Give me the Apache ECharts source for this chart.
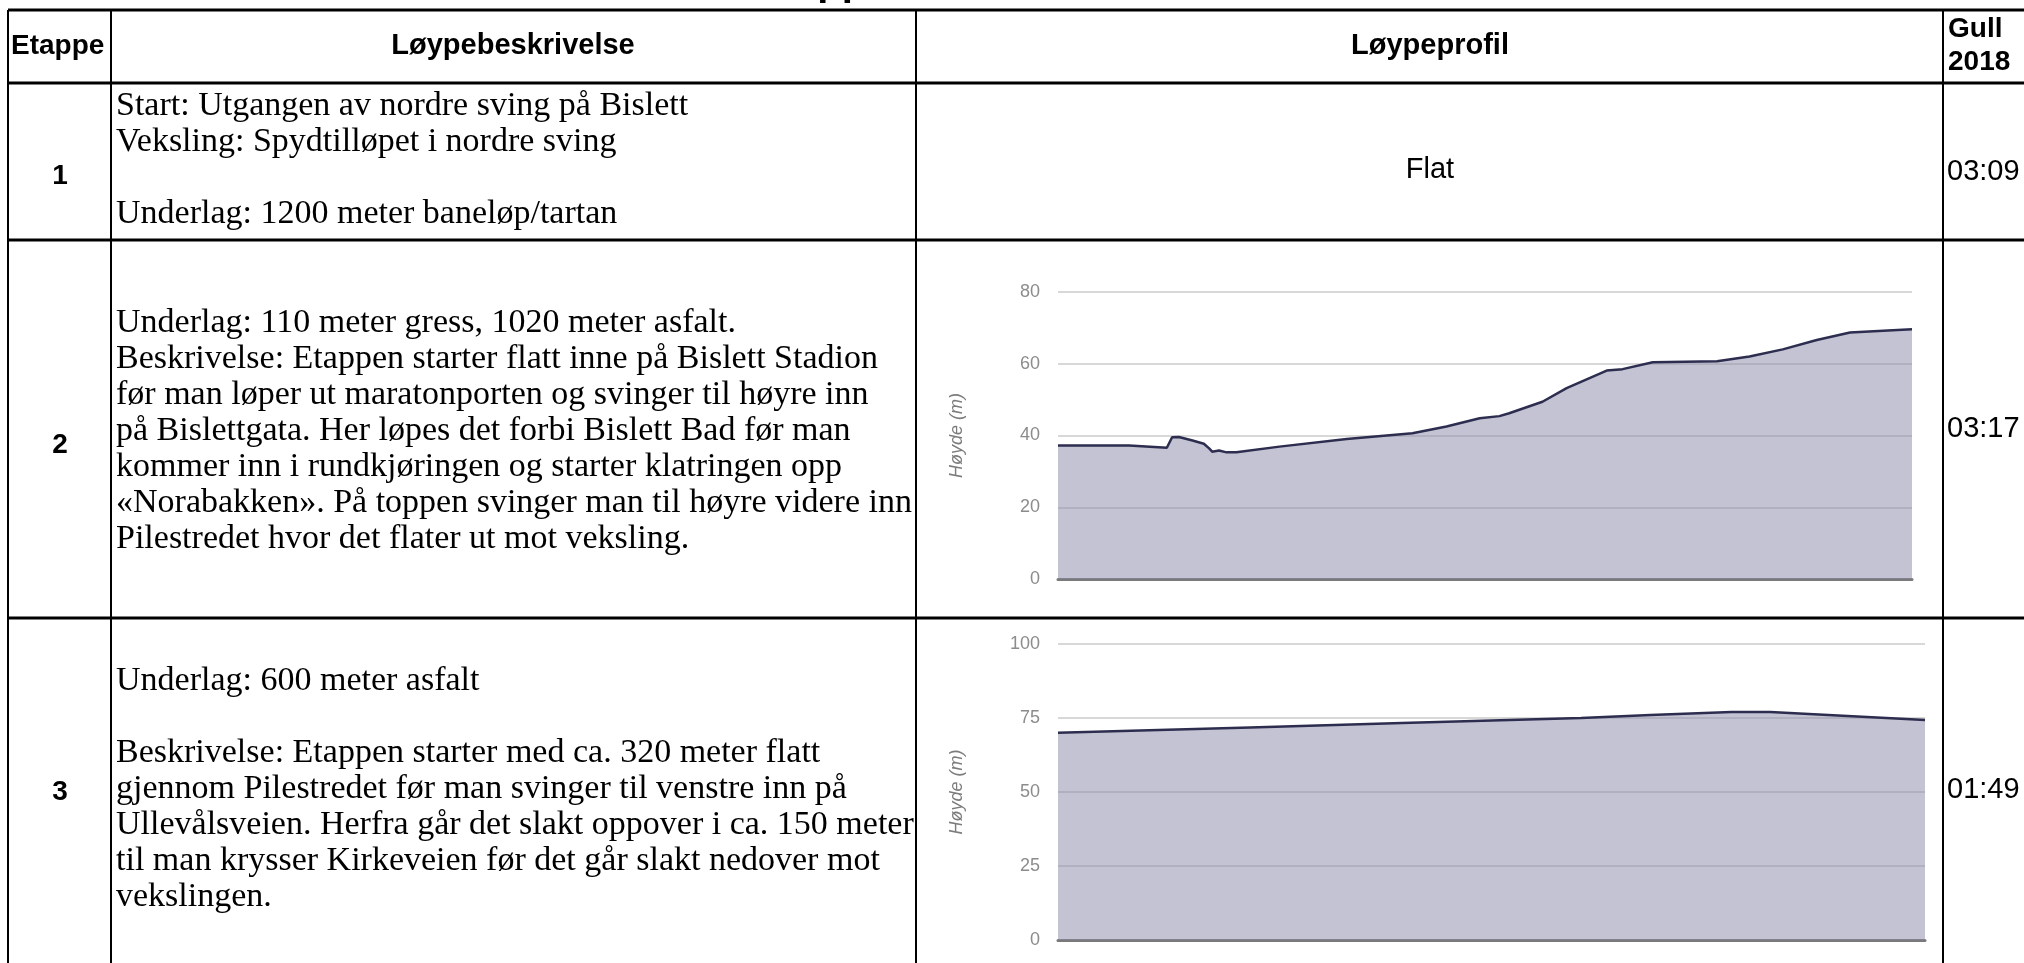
<!DOCTYPE html>
<html>
<head>
<meta charset="utf-8">
<script src="https://cdn.jsdelivr.net/npm/echarts@6/dist/echarts.min.js"></script>
<style>
  html, body { margin: 0; padding: 0; background: #fff; }
  #main { width: 2024px; height: 963px; }
</style>
</head>
<body>
<div id="main"></div>
<script>
// etappe 2: distanse (m) og høyde (m)
const stage2Dist = [0, 94, 144, 151, 160, 178, 193, 200, 204, 213, 223, 236, 293, 382, 469, 514, 558, 584, 597, 641, 673, 726, 747, 787, 872, 915, 959, 1004, 1048, 1092, 1130];
const stage2Height = [37.2, 37.2, 36.6, 39.5, 39.6, 38.6, 37.7, 36.4, 35.5, 35.8, 35.3, 35.3, 36.9, 39.0, 40.6, 42.5, 44.8, 45.4, 46.2, 49.4, 53.2, 58.1, 58.5, 60.4, 60.7, 62.0, 64.0, 66.6, 68.7, 69.2, 69.6];
// etappe 3
const stage3Dist = [0, 133, 238, 362, 410, 466, 493, 600];
const stage3Height = [70, 71.8, 73.3, 75, 76, 77, 77, 74.3];

const stages = ['1', '2', '3'];
const goldTimes = ['03:09', '03:17', '01:49'];
const headers = ['Etappe', 'Løypebeskrivelse', 'Løypeprofil', 'Gull\n2018'];
const descriptions = [
    ['Start: Utgangen av nordre sving på Bislett',
     'Veksling: Spydtilløpet i nordre sving',
     '',
     'Underlag: 1200 meter baneløp/tartan'],
    ['Underlag: 110 meter gress, 1020 meter asfalt.',
     'Beskrivelse: Etappen starter flatt inne på Bislett Stadion',
     'før man løper ut maratonporten og svinger til høyre inn',
     'på Bislettgata. Her løpes det forbi Bislett Bad før man',
     'kommer inn i rundkjøringen og starter klatringen opp',
     '«Norabakken». På toppen svinger man til høyre videre inn',
     'Pilestredet hvor det flater ut mot veksling.'],
    ['Underlag: 600 meter asfalt',
     '',
     'Beskrivelse: Etappen starter med ca. 320 meter flatt',
     'gjennom Pilestredet før man svinger til venstre inn på',
     'Ullevålsveien. Herfra går det slakt oppover i ca. 150 meter',
     'til man krysser Kirkeveien før det går slakt nedover mot',
     'vekslingen.']
];
const profileText = 'Flat';

const chart = echarts.init(document.getElementById('main'));

// tabell-oppsett
const colX = [8, 111, 916, 1943];
const rowY = [10, 83, 240, 618];
const numMid = [176, 445, 792];
const timeMid = [172, 429, 790];
const textMid = [160, 431, 789];

const sans = 'Liberation Sans, Arial, sans-serif';
const serif = 'Liberation Serif, Times New Roman, serif';

let graphics = [];
rowY.forEach(y => {
    graphics.push({ type: 'line', shape: { x1: colX[0], y1: y, x2: 2024, y2: y }, style: { stroke: '#000', lineWidth: 3 } });
});
colX.forEach(x => {
    graphics.push({ type: 'line', shape: { x1: x, y1: rowY[0], x2: x, y2: 963 }, style: { stroke: '#000', lineWidth: 2 } });
});
// overskrifter
graphics.push({ type: 'text', x: 11, y: 46, style: { text: headers[0], font: 'bold 28px ' + sans, fill: '#000', align: 'left', verticalAlign: 'middle' } });
graphics.push({ type: 'text', x: 513, y: 46, style: { text: headers[1], font: 'bold 29px ' + sans, fill: '#000', align: 'center', verticalAlign: 'middle' } });
graphics.push({ type: 'text', x: 1430, y: 46, style: { text: headers[2], font: 'bold 29px ' + sans, fill: '#000', align: 'center', verticalAlign: 'middle' } });
graphics.push({ type: 'text', x: 1948, y: 46, style: { text: headers[3], font: 'bold 28px ' + sans, fill: '#000', align: 'left', verticalAlign: 'middle', lineHeight: 33 } });
// avkuttet tittel over tabellen
graphics.push({ type: 'text', x: 755, y: 4, style: { text: 'Etapper', font: 'bold 40px ' + sans, fill: '#000', align: 'left', verticalAlign: 'bottom' } });

stages.forEach((s, i) => {
    graphics.push({ type: 'text', x: 60, y: numMid[i], style: { text: s, font: 'bold 28px ' + sans, fill: '#000', align: 'center', verticalAlign: 'middle' } });
    graphics.push({ type: 'text', x: 1947, y: timeMid[i], style: { text: goldTimes[i], font: '29px ' + sans, fill: '#000', align: 'left', verticalAlign: 'middle' } });
    graphics.push({ type: 'text', x: 116, y: textMid[i], style: { text: descriptions[i].join('\n'), font: '34px ' + serif, fill: '#000', align: 'left', verticalAlign: 'middle', lineHeight: 36 } });
});
graphics.push({ type: 'text', x: 1430, y: 170, style: { text: profileText, font: '29px ' + sans, fill: '#000', align: 'center', verticalAlign: 'middle' } });

function yAxisFor(gridIndex, max, interval) {
    return {
        gridIndex: gridIndex,
        type: 'value',
        min: 0,
        max: max,
        interval: interval,
        name: 'Høyde (m)',
        nameLocation: 'middle',
        nameRotate: 90,
        nameGap: 92,
        nameTextStyle: { color: '#7c7c7c', fontStyle: 'italic', fontSize: 18, fontFamily: sans },
        axisLine: { show: false },
        axisTick: { show: false },
        axisLabel: { color: '#8c8c8c', fontSize: 18, fontFamily: sans, margin: 18 },
        splitLine: { lineStyle: { color: '#d8d8d8', width: 2 } }
    };
}
function xAxisFor(gridIndex, max) {
    return {
        gridIndex: gridIndex,
        type: 'value',
        min: 0,
        max: max,
        axisLine: { show: true, lineStyle: { color: '#7a7a7a', width: 3 } },
        axisTick: { show: false },
        axisLabel: { show: false },
        splitLine: { show: false }
    };
}
function profileSeries(idx, dist, height) {
    return {
        type: 'line',
        xAxisIndex: idx,
        yAxisIndex: idx,
        data: dist.map((d, i) => [d, height[i]]),
        symbol: 'none',
        lineStyle: { color: '#2d2d4f', width: 2.5 },
        areaStyle: { color: 'rgba(135,135,168,0.5)', opacity: 1 },
        silent: true,
        z: 1
    };
}

const option = {
    animation: false,
    backgroundColor: '#fff',
    grid: [
        { left: 1058, right: 2024 - 1912, top: 292, bottom: 963 - 579 },
        { left: 1058, right: 2024 - 1925, top: 644, bottom: 963 - 940 }
    ],
    xAxis: [xAxisFor(0, stage2Dist[stage2Dist.length - 1]), xAxisFor(1, stage3Dist[stage3Dist.length - 1])],
    yAxis: [yAxisFor(0, 80, 20), yAxisFor(1, 100, 25)],
    series: [profileSeries(0, stage2Dist, stage2Height), profileSeries(1, stage3Dist, stage3Height)],
    graphic: graphics
};
chart.setOption(option);
</script>
</body>
</html>
